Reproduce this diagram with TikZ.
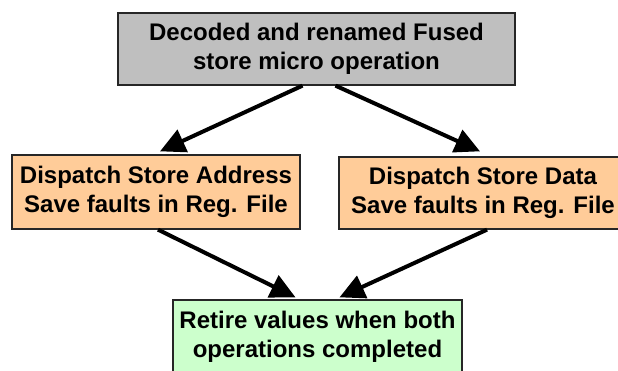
\documentclass[tikz,border=0pt]{standalone}
\usepackage{fontspec}
\setmainfont{Liberation Sans}
\usepackage{tikz}
\usetikzlibrary{arrows.meta}

\begin{document}
\begin{tikzpicture}[x=1pt, y=-1pt,
        box/.style = {draw=black!85, line width=1.3pt, align=center, inner sep=0pt,
                      font=\fontsize{24}{29}\selectfont\bfseries},
        arr/.style = {line width=4pt, -{Triangle[length=25pt, width=24pt]}}]
        \useasboundingbox (0,0) rectangle (618,371);

        \node[box, fill=black!25, minimum width=397pt, minimum height=72pt] (fused) at (316.5,49)
            {Decoded and renamed Fused\\store micro operation};
        \node[box, fill=orange!40!white, minimum width=288pt, minimum height=74pt] (sta) at (156,192)
            {Dispatch Store Address\\Save faults in Reg. File};
        \node[box, fill=orange!40!white, minimum width=288pt, minimum height=72pt] (std) at (483,193)
            {Dispatch Store Data\\Save faults in Reg. File};
        \node[box, fill=green!20!white, minimum width=289pt, minimum height=74pt] (retire) at (317.5,337)
            {Retire values when both\\operations completed};

        \draw[arr] ([xshift=-14pt]fused.south) -- ([xshift=4pt, yshift=3pt]sta.north);
        \draw[arr] ([xshift=19pt]fused.south) -- ([xshift=-3pt, yshift=5pt]std.north);

        \draw[arr] ([xshift=2pt]sta.south) -- ([xshift=-22pt, yshift=2pt]retire.north);
        \draw[arr] ([xshift=4pt]std.south) -- ([xshift=22pt, yshift=2pt]retire.north);
    \end{tikzpicture}
\end{document}
